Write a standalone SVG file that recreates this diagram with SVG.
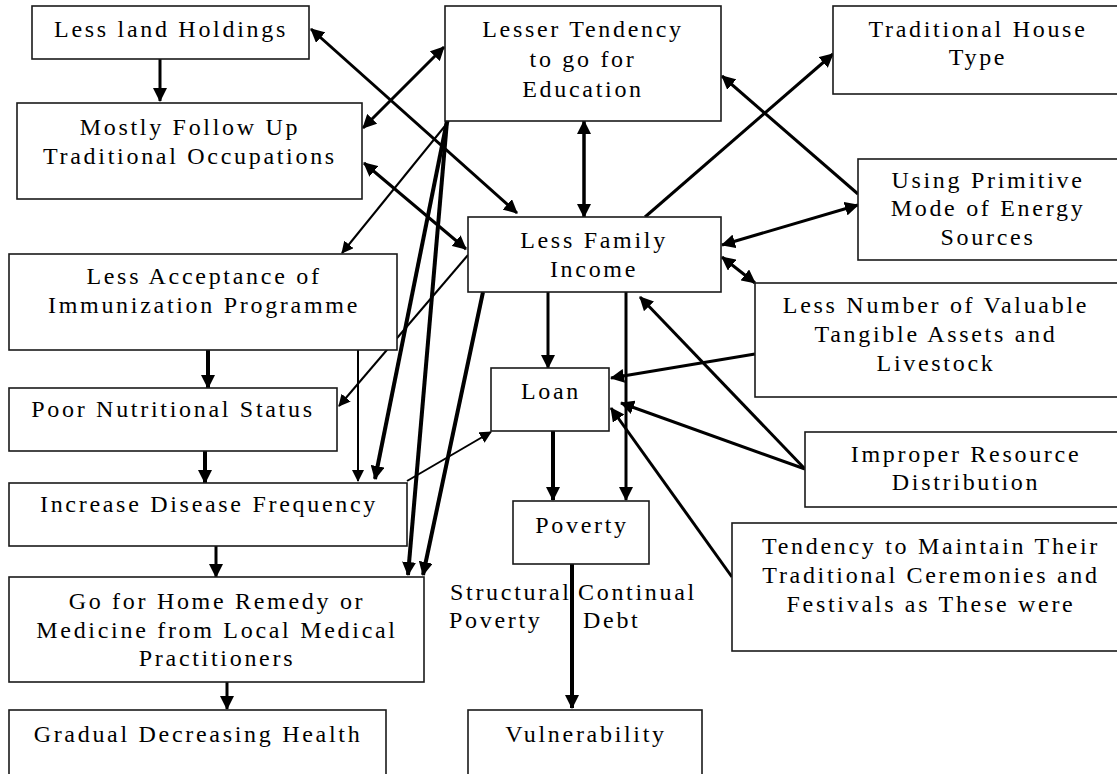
<svg xmlns="http://www.w3.org/2000/svg" width="1117" height="774" viewBox="0 0 1117 774">
<style>
.box{fill:#fff;stroke:#1a1a1a;stroke-width:1.6}
text{font-family:"Liberation Serif","Times New Roman",serif;font-size:24px;fill:#000;letter-spacing:2.7px}
.c{text-anchor:middle}
.ln{fill:none;stroke:#000;stroke-width:3}
.thin{stroke-width:2}
.thick{stroke-width:4}
.e{marker-end:url(#ah)}
.es{marker-end:url(#ahs)}
.d{marker-start:url(#ah);marker-end:url(#ah)}
</style>
<defs>
<marker id="ah" viewBox="0 0 14 14" refX="13" refY="7" markerWidth="14" markerHeight="14" markerUnits="userSpaceOnUse" orient="auto-start-reverse"><path d="M0,0 L14,7 L0,14 z" fill="#000"/></marker>
<marker id="ahs" viewBox="0 0 12 12" refX="11" refY="6" markerWidth="12" markerHeight="12" markerUnits="userSpaceOnUse" orient="auto-start-reverse"><path d="M0,0 L12,6 L0,12 z" fill="#000"/></marker>
</defs>
<rect width="1117" height="774" fill="#fff"/>
<g id="connectors">
<path class="ln e" d="M160,59 L160,101"/>
<path class="ln d" d="M311,29 L517,213"/>
<path class="ln d" d="M444,47 L363,128"/>
<path class="ln d" d="M364,163 L466,249"/>
<path class="ln thin es" d="M449,121 L342,253"/>
<path class="ln thick e" d="M447,121 L375,479"/>
<path class="ln thick e" d="M447,121 L408,575"/>
<path class="ln thick e" d="M483,292 L423,575"/>
<path class="ln thin es" d="M468,255 L339,406"/>
<path class="ln thin es" d="M358,350 L358,481"/>
<path class="ln thick e" d="M208,350 L208,388"/>
<path class="ln thick e" d="M205,451 L205,483"/>
<path class="ln e" d="M216,546 L216,577"/>
<path class="ln e" d="M227,682 L227,709"/>
<path class="ln thin es" d="M407,481 L491,432"/>
<path class="ln d" d="M584,121 L584,217" style="stroke-width:3.5"/>
<path class="ln e" d="M645,217 L833,54"/>
<path class="ln e" d="M858,194 L722,76"/>
<path class="ln d" d="M722,245 L858,205"/>
<path class="ln d" d="M722,257 L755,283"/>
<path class="ln e" d="M755,354 L611,378"/>
<path class="ln e" d="M626,292 L626,500"/>
<path class="ln e" d="M805,469 L621,403"/>
<path class="ln e" d="M805,469 L640,297"/>
<path class="ln e" d="M732,577 L611,408"/>
<path class="ln thick e" d="M553,431 L553,500"/>
<path class="ln e" d="M548,292 L548,368"/>
<path class="ln thick e" d="M572,564 L572,708"/>
</g>
<g id="n-land"><rect class="box" x="32" y="6" width="277" height="53"/><text class="c" x="171" y="37">Less land Holdings</text></g>
<g id="n-occupations"><rect class="box" x="17" y="103" width="345" height="96"/><text class="c" x="190" y="135">Mostly Follow Up</text><text class="c" x="190" y="164">Traditional Occupations</text></g>
<g id="n-education"><rect class="box" x="445" y="6" width="276" height="115"/><text class="c" x="583" y="37">Lesser Tendency</text><text class="c" x="583" y="67">to go for</text><text class="c" x="583" y="97">Education</text></g>
<g id="n-house"><rect class="box" x="833" y="6" width="292" height="88"/><text class="c" x="978" y="37">Traditional House</text><text class="c" x="978" y="65">Type</text></g>
<g id="n-energy"><rect class="box" x="858" y="159" width="267" height="101"/><text class="c" x="988" y="188">Using Primitive</text><text class="c" x="988" y="216">Mode of Energy</text><text class="c" x="988" y="245">Sources</text></g>
<g id="n-income"><rect class="box" x="468" y="217" width="253" height="75"/><text class="c" x="594" y="248">Less Family</text><text class="c" x="594" y="277">Income</text></g>
<g id="n-assets"><rect class="box" x="755" y="283" width="370" height="114"/><text class="c" x="936" y="313">Less Number of Valuable</text><text class="c" x="936" y="342">Tangible Assets and</text><text class="c" x="936" y="371">Livestock</text></g>
<g id="n-resource"><rect class="box" x="805" y="432" width="320" height="75"/><text class="c" x="966" y="462">Improper Resource</text><text class="c" x="966" y="490">Distribution</text></g>
<g id="n-ceremonies"><rect class="box" x="732" y="523" width="393" height="128"/><text class="c" x="931" y="554">Tendency to Maintain Their</text><text class="c" x="931" y="583">Traditional Ceremonies and</text><text class="c" x="931" y="612">Festivals as These were</text></g>
<g id="n-immunization"><rect class="box" x="9" y="254" width="388" height="96"/><text class="c" x="204" y="284">Less Acceptance of</text><text class="c" x="204" y="313">Immunization Programme</text></g>
<g id="n-nutrition"><rect class="box" x="9" y="388" width="328" height="63"/><text class="c" x="173" y="417">Poor Nutritional Status</text></g>
<g id="n-disease"><rect class="box" x="9" y="483" width="398" height="63"/><text class="c" x="209" y="512">Increase Disease Frequency</text></g>
<g id="n-remedy"><rect class="box" x="9" y="577" width="415" height="105"/><text class="c" x="217" y="609">Go for Home Remedy or</text><text class="c" x="217" y="638">Medicine from Local Medical</text><text class="c" x="217" y="666">Practitioners</text></g>
<g id="n-health"><rect class="box" x="9" y="710" width="377" height="70"/><text class="c" x="198" y="742">Gradual Decreasing Health</text></g>
<g id="n-loan"><rect class="box" x="491" y="368" width="118" height="63"/><text class="c" x="551" y="399">Loan</text></g>
<g id="n-poverty"><rect class="box" x="513" y="501" width="136" height="63"/><text class="c" x="582" y="533">Poverty</text></g>
<g id="n-vulnerability"><rect class="box" x="468" y="710" width="234" height="70"/><text class="c" x="586" y="742">Vulnerability</text></g>
<g id="labels">
<text x="450" y="600">Structural</text>
<text x="449" y="628">Poverty</text>
<text x="578" y="600">Continual</text>
<text x="583" y="628">Debt</text>
</g>
</svg>
